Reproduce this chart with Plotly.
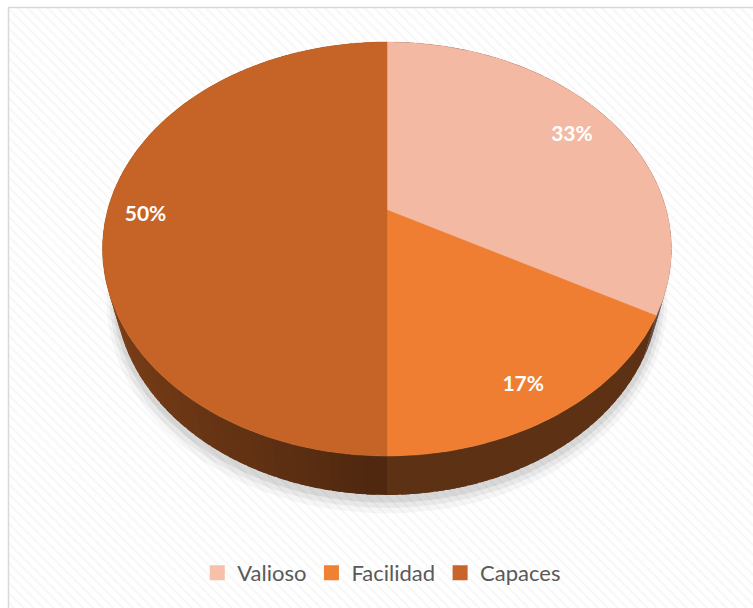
import math
import plotly.graph_objects as go

# ---------------- data ----------------
categories = ["Valioso", "Facilidad", "Capaces"]
values = [33, 17, 50]
labels = ["33%", "17%", "50%"]
top_colors = ["#f4b9a3", "#ef7e32", "#c56426"]
legend_colors = ["#f8bfa9", "#f08032", "#c8652a"]

# ---------------- 3D pie geometry (layout constants) ----------------
W, H = 753, 608
CX, CY = 387, 210          # projected centre of the top face (pixels)
F = 1037.0                 # focal length
D = 3.712                  # camera distance (radius units)
SIN_P = 0.7147
COS_P = math.sqrt(1 - SIN_P ** 2)
THICK = 0.2253             # pie thickness (radius units)
LABEL_R = 0.85


def project(theta, rho=1.0, z=0.0):
    xw = rho * math.sin(theta)
    yd = rho * math.cos(theta)
    su = yd * SIN_P + z * COS_P
    depth = D + yd * COS_P - z * SIN_P
    return CX + F * xw / depth, CY - F * su / depth


def hex_rgb(h):
    h = h.lstrip("#")
    return tuple(int(h[i:i + 2], 16) for i in (0, 2, 4))


def shade(col, f):
    r, g, b = hex_rgb(col)
    return "rgb(%d,%d,%d)" % (round(r * f), round(g * f), round(b * f))


def side_factor(theta):
    deg = math.degrees(theta) % 360
    t = min(max((deg - 180) / 90.0, 0.0), 1.0)
    return 0.39 + 0.31 * t ** 0.8


total = float(sum(values))
bounds = [0.0]
for v in values:
    bounds.append(bounds[-1] + v / total * 2 * math.pi)

fig = go.Figure()

# background with faint diagonal pattern
fig.add_trace(go.Scatter(
    x=[9, W + 5, W + 5, 9, 9], y=[8, 8, H + 5, H + 5, 8],
    mode="lines", fill="toself", line=dict(width=0),
    fillcolor="white",
    fillpattern=dict(shape="\\", size=7, solidity=0.3,
                     fgcolor="#efefef", bgcolor="#ffffff"),
    hoverinfo="skip", showlegend=False))

# soft shadow below the pie
for rho, dz, a in [(1.035, 0.03, 0.035), (1.022, 0.02, 0.05), (1.01, 0.01, 0.07)]:
    xs, ys = [], []
    for i in range(181):
        th = 2 * math.pi * i / 180
        px, py = project(th, rho, -THICK - dz)
        xs.append(px)
        ys.append(py + 3)
    fig.add_trace(go.Scatter(x=xs, y=ys, mode="lines", fill="toself",
                             line=dict(width=0), fillcolor="rgba(0,0,0,%.3f)" % a,
                             hoverinfo="skip", showlegend=False))

# side walls, drawn back to front, strips overlap to hide seams
segs = []
for s in range(len(values)):
    a0, a1 = bounds[s], bounds[s + 1]
    n = max(2, int(math.degrees(a1 - a0) / 2))
    step = (a1 - a0) / n
    for i in range(n):
        ta = a0 + step * i
        tb = min(a1, ta + step * 1.8)
        tm = ta + 0.5 * step
        segs.append((math.cos(tm), s, ta, tb, tm))
segs.sort(key=lambda q: -q[0])
for _, s, ta, tb, tm in segs:
    col = shade(top_colors[s], side_factor(tm))
    xs, ys = [], []
    m = 4
    for j in range(m + 1):
        px, py = project(ta + (tb - ta) * j / m)
        xs.append(px)
        ys.append(py)
    for j in range(m, -1, -1):
        px, py = project(ta + (tb - ta) * j / m, 1.0, -THICK)
        xs.append(px)
        ys.append(py)
    xs.append(xs[0])
    ys.append(ys[0])
    fig.add_trace(go.Scatter(
        x=xs, y=ys, mode="lines", fill="toself", line=dict(width=0),
        fillcolor=col, hoverinfo="skip", showlegend=False))

# top faces
for s in range(len(values)):
    a0, a1 = bounds[s], bounds[s + 1]
    n = max(4, int(math.degrees(a1 - a0)))
    xs, ys = [CX], [CY]
    for i in range(n + 1):
        px, py = project(a0 + (a1 - a0) * i / n)
        xs.append(px)
        ys.append(py)
    xs.append(CX)
    ys.append(CY)
    fig.add_trace(go.Scatter(x=xs, y=ys, mode="lines", fill="toself",
                             line=dict(width=0.5, color=top_colors[s]),
                             fillcolor=top_colors[s], name=categories[s],
                             hoverinfo="name", showlegend=False))

# data labels
lx, ly = [], []
for s in range(len(values)):
    mid = 0.5 * (bounds[s] + bounds[s + 1])
    px, py = project(mid, LABEL_R)
    lx.append(px - 4)
    ly.append(py + 6)
fig.add_trace(go.Scatter(x=lx, y=ly, mode="text", text=labels,
                         textfont=dict(family="Lato", size=21, color="white", weight="bold"),
                         hoverinfo="skip", showlegend=False))

# legend entries
for s in range(len(values)):
    fig.add_trace(go.Scatter(x=[None], y=[None], mode="markers", name=categories[s],
                             marker=dict(symbol="square", size=15, color=legend_colors[s]),
                             showlegend=True))

fig.update_layout(
    width=W, height=H, autosize=False,
    margin=dict(l=0, r=0, t=0, b=0),
    paper_bgcolor="white", plot_bgcolor="white",
    xaxis=dict(range=[0, W], visible=False, fixedrange=True),
    yaxis=dict(range=[H, 0], visible=False, fixedrange=True),
    showlegend=True,
    legend=dict(orientation="h", x=0.507, xanchor="center", y=1 - 573 / H, yanchor="middle",
                font=dict(family="Lato", size=22, color="#595959"),
                bgcolor="rgba(0,0,0,0)", itemclick=False, itemdoubleclick=False,
                tracegroupgap=0),
    shapes=[dict(type="rect", xref="x", yref="y", x0=8.5, y0=7.5, x1=W + 10, y1=H + 10,
                 line=dict(color="#d9d9d9", width=1.5), fillcolor="rgba(0,0,0,0)")],
)

fig.write_html("out.html", config={"displayModeBar": False},
               post_script="document.body.style.margin='0';document.body.style.overflow='hidden';")
